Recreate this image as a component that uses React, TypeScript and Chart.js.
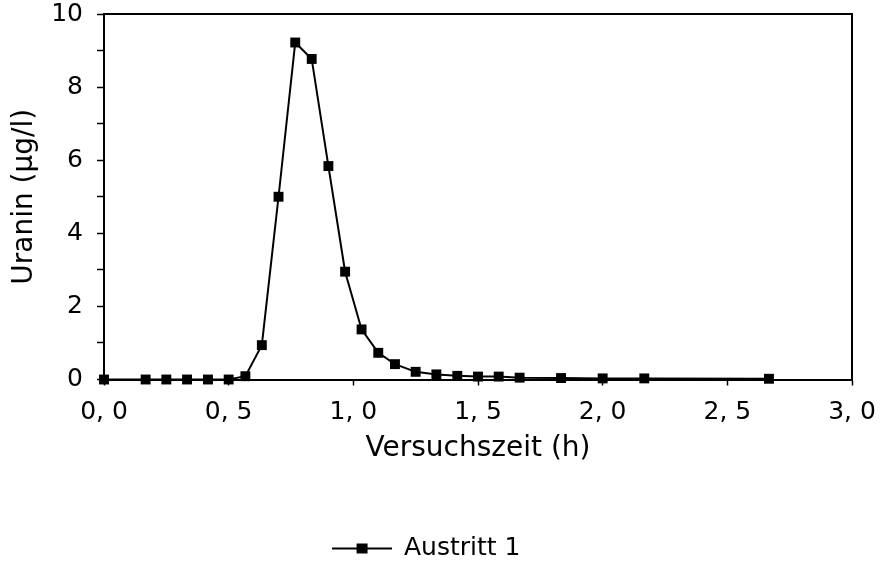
import React, { useEffect, useRef } from "react";
import { Chart, registerables } from "chart.js";

Chart.register(...registerables);

// Versuchszeit (h)
const timeHours = [
  0, 0.167, 0.25, 0.333, 0.417, 0.5, 0.567, 0.633, 0.7, 0.767, 0.833, 0.9,
  0.967, 1.033, 1.1, 1.167, 1.25, 1.333, 1.417, 1.5, 1.583, 1.667, 1.833,
  2.0, 2.167, 2.667,
];
// Uranin (µg/l)
const uranin = [
  0, 0, 0, 0, 0, 0, 0.09, 0.94, 5.0, 9.22, 8.77, 5.84, 2.95, 1.37, 0.73,
  0.42, 0.21, 0.14, 0.1, 0.08, 0.08, 0.05, 0.04, 0.03, 0.03, 0.02,
];
const seriesName = "Austritt 1";
const xTitle = "Versuchszeit (h)";
const yTitle = "Uranin (µg/l)";
const xMin = 0;
const xMax = 3;
const xStep = 0.5;
const yMin = 0;
const yMax = 10;
const yStep = 1;
const yLabelEvery = 2;

const FONT = "'DejaVu Sans', sans-serif";

function makeLegendIcon(): HTMLCanvasElement {
  const c = document.createElement("canvas");
  c.width = 60;
  c.height = 14;
  const ctx = c.getContext("2d")!;
  ctx.strokeStyle = "#000";
  ctx.lineWidth = 2;
  ctx.beginPath();
  ctx.moveTo(0, 7);
  ctx.lineTo(60, 7);
  ctx.stroke();
  ctx.fillStyle = "#000";
  ctx.fillRect(25, 2, 11, 10);
  return c;
}

export default function App() {
  const ref = useRef<HTMLCanvasElement | null>(null);

  useEffect(() => {
    if (!ref.current) return;
    const icon = makeLegendIcon();
    const frame = {
      id: "frame",
      afterDatasetsDraw(chart: any) {
        const { ctx, chartArea } = chart;
        ctx.save();
        ctx.strokeStyle = "#000";
        ctx.lineWidth = 2;
        ctx.beginPath();
        ctx.moveTo(chartArea.left, chartArea.top);
        ctx.lineTo(chartArea.right, chartArea.top);
        ctx.lineTo(chartArea.right, chartArea.bottom);
        ctx.stroke();
        ctx.restore();
      },
    };
    const chart = new Chart(ref.current, {
      type: "scatter",
      data: {
        datasets: [
          {
            label: seriesName,
            data: timeHours.map((t, i) => ({ x: t, y: uranin[i] })),
            showLine: true,
            borderColor: "#000",
            backgroundColor: "#000",
            borderWidth: 2,
            pointStyle: "rect",
            pointRadius: 7,
            pointBorderWidth: 0,
            tension: 0,
            clip: false as any,
          },
        ],
      },
      options: {
        responsive: false,
        animation: false,
        devicePixelRatio: 1,
        layout: { padding: { top: 14, right: 39, left: 0, bottom: 3 } },
        plugins: {
          tooltip: { enabled: false },
          legend: {
            position: "bottom",
            labels: {
              usePointStyle: true,
              pointStyle: icon as any,
              pointStyleWidth: 60,
              padding: 10,
              color: "#000",
              font: { family: FONT, size: 25 },
            },
          },
        },
        scales: {
          x: {
            type: "linear",
            min: xMin,
            max: xMax,
            afterBuildTicks: (scale: any) => {
              const t = [];
              for (let v = xMin; v <= xMax + 1e-9; v += xStep) t.push({ value: Math.round(v * 10) / 10 });
              scale.ticks = t;
            },
            afterFit: (scale: any) => {
              scale.height = 146.5;
              scale.paddingLeft = 0;
              scale.paddingRight = 0;
            },
            ticks: {
              color: "#000",
              padding: 12,
              maxRotation: 0,
              autoSkip: false,
              font: { family: FONT, size: 25 },
              callback: (v: any) => Number(v).toFixed(1).replace(".", ", "),
            },
            grid: { drawOnChartArea: false, tickLength: 6, color: "#000", tickWidth: 1.5 },
            border: { color: "#000", width: 2 },
            title: {
              display: true,
              text: xTitle,
              color: "#000",
              font: { family: FONT, size: 28 },
              padding: { top: 0, bottom: 60 },
            },
          },
          y: {
            type: "linear",
            min: yMin,
            max: yMax,
            afterFit: (scale: any) => {
              scale.width = 104;
              scale.paddingTop = 0;
              scale.paddingBottom = 0;
            },
            ticks: {
              stepSize: yStep,
              color: "#000",
              padding: 14,
              autoSkip: false,
              font: { family: FONT, size: 25 },
              callback: (v: any) => (Number(v) % yLabelEvery === 0 ? String(v) : ""),
            },
            grid: { drawOnChartArea: false, tickLength: 7, color: "#000", tickWidth: 1.5 },
            border: { color: "#000", width: 2 },
            title: {
              display: true,
              text: yTitle,
              color: "#000",
              font: { family: FONT, size: 28 },
              padding: { top: 8, bottom: 0 },
            },
          },
        },
      },
      plugins: [frame],
    });
    return () => chart.destroy();
  }, []);

  return (
    <div style={{ position: "absolute", left: 0, top: 0, width: 891, height: 574, background: "#fff" }}>
      <canvas ref={ref} width={891} height={574} />
    </div>
  );
}
